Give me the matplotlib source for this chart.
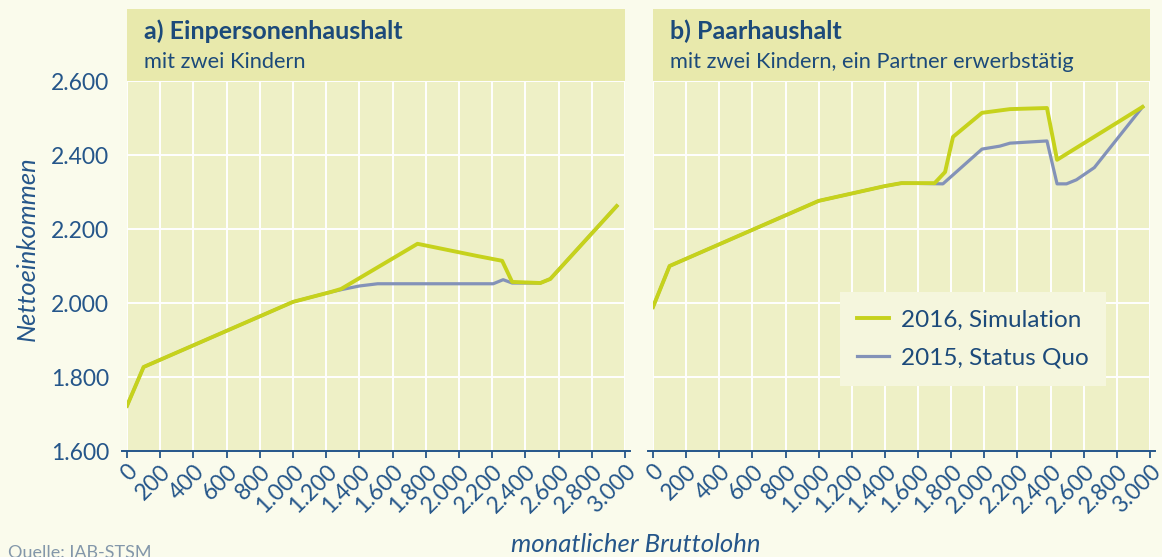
#!/usr/bin/env python3
"""Net income vs. gross monthly wage for two household types (2015 vs. 2016)."""

from __future__ import annotations

import matplotlib

matplotlib.use("Agg")
import matplotlib.pyplot as plt
from matplotlib.patches import Rectangle

# ---------------------------------------------------------------------------
# Data
# ---------------------------------------------------------------------------

x_ticks = [0, 200, 400, 600, 800, 1000, 1200, 1400, 1600, 1800,
           2000, 2200, 2400, 2600, 2800, 3000]
x_tick_labels = ["0", "200", "400", "600", "800", "1.000", "1.200", "1.400",
                 "1.600", "1.800", "2.000", "2.200", "2.400", "2.600",
                 "2.800", "3.000"]
y_ticks = [1600, 1800, 2000, 2200, 2400, 2600]
y_tick_labels = ["1.600", "1.800", "2.000", "2.200", "2.400", "2.600"]

# a) single parent, two children
a_sim_x = [0, 100, 1000, 1230, 1290, 1750, 2110, 2260, 2320, 2490, 2550, 2950]
a_sim_y = [1722, 1827, 2003, 2030, 2038, 2160, 2127, 2114, 2057, 2054, 2065, 2262]
a_sq_x = [0, 100, 1000, 1230, 1290, 1400, 1510, 2206, 2266, 2320, 2490, 2550, 2950]
a_sq_y = [1722, 1827, 2003, 2030, 2036, 2046, 2052, 2052, 2063, 2054, 2054, 2065, 2262]

# b) couple, two children, one earner
b_sim_x = [0, 100, 1000, 1400, 1500, 1700, 1763, 1811, 1986, 2155, 2378, 2439, 2955]
b_sim_y = [1989, 2100, 2276, 2316, 2324, 2324, 2354, 2449, 2514, 2524, 2527, 2387, 2530]
b_sq_x = [0, 100, 1000, 1400, 1500, 1750, 1986, 2094, 2155, 2378, 2439, 2496, 2556, 2664, 2955]
b_sq_y = [1989, 2100, 2276, 2316, 2324, 2322, 2416, 2424, 2432, 2438, 2322, 2322, 2333, 2366, 2530]

label_sim = "2016, Simulation"
label_sq = "2015, Status Quo"

# ---------------------------------------------------------------------------
# Style
# ---------------------------------------------------------------------------

FIG_BG = "#fafbec"
PLOT_BG = "#eef0c6"
BAND_BG = "#e8e9ac"
LEGEND_BG = "#f5f6dd"
TEXT = "#1c4a7a"
TICK = "#25568a"
SIM = "#c6d21c"
SQ = "#8392b8"

plt.rcParams["font.family"] = ["Lato", "DejaVu Sans"]

W, H = 1162, 557


def px_rect(left, top, right, bottom):
    """Figure-fraction rect from pixel edges."""
    return [left / W, 1 - bottom / H, (right - left) / W, (bottom - top) / H]


def setup_axes(ax, title, subtitle, show_y):
    ax.set_facecolor(PLOT_BG)
    ax.set_xlim(0, 3000)
    ax.set_ylim(1600, 2600)
    ax.set_xticks(x_ticks)
    ax.set_xticklabels(x_tick_labels, rotation=45, ha="right", va="top",
                       rotation_mode="anchor", fontsize=16.5, color=TICK)
    ax.set_yticks(y_ticks)
    if show_y:
        ax.set_yticklabels(y_tick_labels, fontsize=16.5, color=TICK)
    else:
        ax.set_yticklabels([])
    ax.tick_params(axis="y", length=0, pad=13)
    ax.tick_params(axis="x", length=5, width=1.3, color=TICK, pad=2)
    ax.grid(True, color="white", linewidth=1.4)
    ax.set_axisbelow(True)
    for side in ("left", "right", "top"):
        ax.spines[side].set_visible(False)
    ax.spines["bottom"].set_color(TICK)
    ax.spines["bottom"].set_linewidth(1.4)
    ax.spines["bottom"].set_bounds(-30, 3030)

    band_h = 72 / 370
    ax.add_patch(Rectangle((0, 1), 1, band_h, transform=ax.transAxes,
                           facecolor=BAND_BG, edgecolor="none", clip_on=False))
    ax.text(0.034, 1.135, title, transform=ax.transAxes, fontsize=18,
            fontweight="bold", color=TEXT, va="center", ha="left")
    ax.text(0.034, 1.05, subtitle, transform=ax.transAxes, fontsize=15.7,
            color=TEXT, va="center", ha="left")


def main() -> int:
    fig = plt.figure(figsize=(W / 100, H / 100), dpi=100, facecolor=FIG_BG)
    ax_a = fig.add_axes(px_rect(127, 81, 625, 451))
    ax_b = fig.add_axes(px_rect(653, 81, 1150, 451))

    setup_axes(ax_a, "a) Einpersonenhaushalt", "mit zwei Kindern", True)
    setup_axes(ax_b, "b) Paarhaushalt",
               "mit zwei Kindern, ein Partner erwerbstätig", False)

    ax_a.plot(a_sq_x, a_sq_y, color=SQ, lw=2.3, zorder=3)
    ax_a.plot(a_sim_x, a_sim_y, color=SIM, lw=2.8, zorder=4)
    ax_b.plot(b_sq_x, b_sq_y, color=SQ, lw=2.3, zorder=3, label=label_sq)
    ax_b.plot(b_sim_x, b_sim_y, color=SIM, lw=2.8, zorder=4, label=label_sim)

    handles, labels = ax_b.get_legend_handles_labels()
    leg = ax_b.legend(handles[::-1], labels[::-1], loc="upper left",
                      bbox_to_anchor=(0.376, 0.43), borderaxespad=0,
                      frameon=True, fancybox=False, fontsize=17.5,
                      handlelength=1.3, handletextpad=0.5, labelspacing=0.72,
                      borderpad=0.72)
    leg.get_frame().set_facecolor(LEGEND_BG)
    leg.get_frame().set_edgecolor("none")
    leg.get_frame().set_alpha(1)
    for t in leg.get_texts():
        t.set_color(TEXT)

    fig.text(27 / W, 1 - 249 / H, "Nettoeinkommen", rotation=90,
             ha="center", va="center", fontsize=18.4, style="italic", color=TICK)
    fig.text(636 / W, 1 - 545 / H, "monatlicher Bruttolohn", ha="center",
             va="center", fontsize=18.5, style="italic", color=TICK)
    fig.text(8 / W, 1 - 545 / H, "Quelle: IAB-STSM", ha="left", va="top",
             fontsize=13, color="#8397aa")

    fig.savefig("out.png", dpi=100, facecolor=fig.get_facecolor())
    return 0


if __name__ == "__main__":
    raise SystemExit(main())
